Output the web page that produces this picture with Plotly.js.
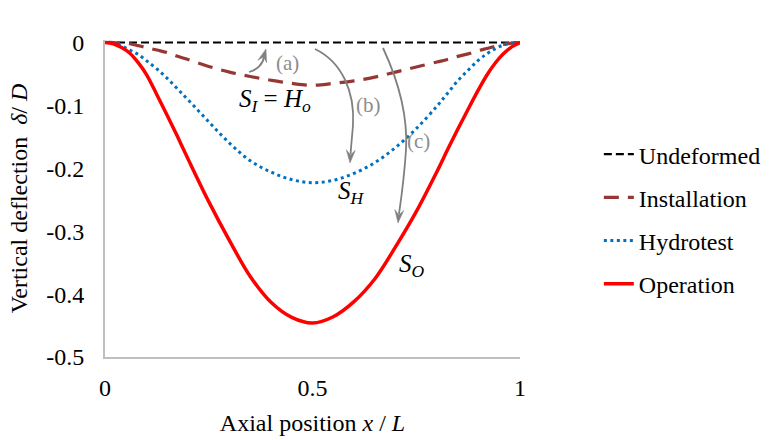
<!DOCTYPE html>
<html>
<head>
<meta charset="utf-8">
<script src="https://cdn.plot.ly/plotly-3.0.1.min.js"></script>
<style>
html,body{margin:0;padding:0;background:#fff;}
#chart{width:769px;height:440px;}
</style>
</head>
<body>
<div id="chart"></div>
<script>
// ---- data ----
const xPos = [0, 0.02, 0.04, 0.06, 0.08, 0.1, 0.125, 0.15, 0.175, 0.2, 0.25, 0.3, 0.35, 0.4, 0.45, 0.5,
              0.55, 0.6, 0.65, 0.7, 0.75, 0.8, 0.825, 0.85, 0.875, 0.9, 0.92, 0.94, 0.96, 0.98, 1];
const undeformed = [0, 0, 0, 0, 0, 0, 0, 0, 0, 0, 0, 0, 0, 0, 0, 0,
                    0, 0, 0, 0, 0, 0, 0, 0, 0, 0, 0, 0, 0, 0, 0];
const installation = [0, 0, -0.001, -0.002, -0.005, -0.008, -0.012, -0.016, -0.022, -0.027, -0.038, -0.047, -0.054, -0.060, -0.065, -0.068,
                      -0.065, -0.061, -0.055, -0.047, -0.039, -0.031, -0.027, -0.022, -0.018, -0.013, -0.0095, -0.006, -0.003, -0.001, 0];
const hydrotest = [0, -0.001, -0.006, -0.012, -0.019, -0.029, -0.042, -0.057, -0.074, -0.091, -0.126, -0.160, -0.188, -0.206, -0.218, -0.223,
                   -0.219, -0.208, -0.191, -0.167, -0.137, -0.101, -0.081, -0.061, -0.044, -0.028, -0.018, -0.010, -0.004, -0.001, 0];
const operation = [0, -0.002, -0.008, -0.017, -0.032, -0.051, -0.083, -0.116, -0.150, -0.185, -0.253, -0.315, -0.372, -0.413, -0.437, -0.446,
                   -0.436, -0.412, -0.376, -0.325, -0.269, -0.205, -0.171, -0.138, -0.106, -0.075, -0.052, -0.033, -0.018, -0.007, 0];
const seriesNames = ['Undeformed', 'Installation', 'Hydrotest', 'Operation'];
const xTicks = [0, 0.5, 1];
const xTickText = ['0', '0.5', '1'];
const yTicks = [0, -0.1, -0.2, -0.3, -0.4, -0.5];
const yTickText = ['0', '-0.1', '-0.2', '-0.3', '-0.4', '-0.5'];

// ---- styling ----
const GRAY = '#808080';
const chartW = 769, chartH = 440;
const mg = {l: 105, r: 249, t: 40, b: 83, autoexpand: false};
const xRange = [0, 1], yRange = [-0.5, 0.004];

// pixel -> data helpers for decorations (arrows, labels)
const plotW = chartW - mg.l - mg.r, plotH = chartH - mg.t - mg.b;
const toX = px => xRange[0] + (px - mg.l) / plotW * (xRange[1] - xRange[0]);
const toY = py => yRange[1] - (py - mg.t) / plotH * (yRange[1] - yRange[0]);
const toPt = (px, py) => toX(px) + ',' + toY(py);
function bezierPath(p) {
  let s = 'M' + toPt(p[0][0], p[0][1]);
  for (let i = 1; i < p.length; i += 3) {
    s += ' C' + toPt(p[i][0], p[i][1]) + ' ' + toPt(p[i+1][0], p[i+1][1]) + ' ' + toPt(p[i+2][0], p[i+2][1]);
  }
  return s;
}
function arrowHeadPath(tx, ty, ux, uy) {
  const n = Math.hypot(ux, uy); ux /= n; uy /= n;
  const nx = -uy, ny = ux, L = 13, hw = 4.5, notch = 8;
  const bx = tx - ux * L, by = ty - uy * L;
  return 'M' + toPt(tx, ty) + ' L' + toPt(bx + nx * hw, by + ny * hw) + ' L' + toPt(tx - ux * notch, ty - uy * notch) +
         ' L' + toPt(bx - nx * hw, by - ny * hw) + ' Z';
}

const traces = [
  {x: xPos, y: undeformed, name: seriesNames[0], mode: 'lines', legendgroup: 'a',
   line: {color: '#000000', width: 2.2, dash: '8px,4px'}},
  {x: xPos, y: installation, name: seriesNames[1], mode: 'lines', legendgroup: 'b',
   line: {color: '#953735', width: 3.2, dash: '15px,9px', shape: 'spline', smoothing: 1}},
  {x: xPos, y: hydrotest, name: seriesNames[2], mode: 'lines', legendgroup: 'c',
   line: {color: '#0070C0', width: 3, dash: '3px,3.5px', shape: 'spline', smoothing: 1}},
  {x: xPos, y: operation, name: seriesNames[3], mode: 'lines', legendgroup: 'd',
   line: {color: '#FF0000', width: 3.5, shape: 'spline', smoothing: 1}}
];

const shapes = [
  {type: 'path', path: bezierPath([[249, 72], [257, 70], [263, 64], [264, 57]]), line: {color: GRAY, width: 1.8}},
  {type: 'path', path: arrowHeadPath(266, 49, 0.3, -1), fillcolor: GRAY, line: {color: GRAY, width: 0.5}},
  {type: 'path', path: bezierPath([[315, 49], [342, 62], [355, 92], [353, 125], [352, 138], [351, 146], [350.6, 154]]), line: {color: GRAY, width: 1.8}},
  {type: 'path', path: arrowHeadPath(350, 163, -0.06, 1), fillcolor: GRAY, line: {color: GRAY, width: 0.5}},
  {type: 'path', path: bezierPath([[383, 48], [398, 80], [408, 115], [406, 150], [404, 180], [401, 200], [399, 214]]), line: {color: GRAY, width: 1.8}},
  {type: 'path', path: arrowHeadPath(398, 223, -0.1, 1), fillcolor: GRAY, line: {color: GRAY, width: 0.5}}
].map(s => Object.assign({xref: 'x', yref: 'y', layer: 'above'}, s));

const annotations = [
  {x: toX(315), y: toY(22), text: '<i>S</i><sub><i>Io</i></sub> ,  <i>S</i><sub><i>Ho</i></sub> or <i>S</i><sub><i>Oo</i></sub>', font: {size: 25}},
  {x: toX(275), y: toY(100), text: '<i>S</i><sub><i>I</i></sub> = <i>H</i><sub><i>o</i></sub>', font: {size: 25}},
  {x: toX(351), y: toY(192), text: '<i>S</i><sub><i>H</i></sub>', font: {size: 25}},
  {x: toX(412), y: toY(265), text: '<i>S</i><sub><i>O</i></sub>', font: {size: 25}},
  {x: toX(287), y: toY(63), text: '(a)', font: {size: 21, color: '#8c8c8c'}},
  {x: toX(368), y: toY(105), text: '(b)', font: {size: 21, color: '#8c8c8c'}},
  {x: toX(418), y: toY(141), text: '(c)', font: {size: 21, color: '#8c8c8c'}}
].map(a => Object.assign({xref: 'x', yref: 'y', showarrow: false, xanchor: 'center', yanchor: 'middle'}, a));

const layout = {
  width: chartW, height: chartH,
  margin: mg,
  paper_bgcolor: '#ffffff', plot_bgcolor: '#ffffff',
  font: {family: 'Liberation Serif', size: 24, color: '#000'},
  showlegend: true,
  legend: {x: 1.19, xanchor: 'left', y: 0.435, yanchor: 'middle', traceorder: 'grouped', tracegroupgap: 9,
           bgcolor: 'rgba(0,0,0,0)'},
  xaxis: {range: xRange, tickvals: xTicks, ticktext: xTickText, showgrid: false, zeroline: false,
          showline: true, linecolor: '#BFBFBF', linewidth: 2, ticks: 'outside', ticklen: 8, tickcolor: 'rgba(0,0,0,0)',
          automargin: false,
          title: {text: 'Axial position <i>x</i> / <i>L</i>', font: {size: 24}, standoff: 14}},
  yaxis: {range: yRange, tickvals: yTicks, ticktext: yTickText, showgrid: false, zeroline: false,
          showline: true, linecolor: '#BFBFBF', linewidth: 2, ticks: 'outside', ticklen: 14, tickcolor: 'rgba(0,0,0,0)',
          automargin: false,
          title: {text: 'Vertical deflection  <i>δ</i>/ <i>D</i>', font: {size: 24}, standoff: 12}},
  shapes: shapes,
  annotations: annotations
};

Plotly.newPlot('chart', traces, layout, {displayModeBar: false});
</script>
</body>
</html>
